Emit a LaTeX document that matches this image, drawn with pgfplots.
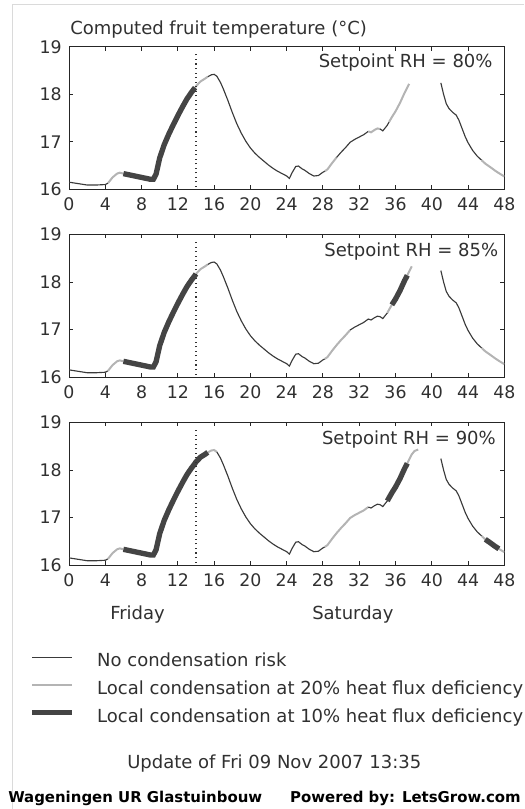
\documentclass[border=0pt]{standalone}
\usepackage{fontspec}
\setmainfont{DejaVu Sans}
\usepackage{pgfplots}
\usepackage{pgfplotstable}
\pgfplotsset{compat=1.18}

\definecolor{txt}{HTML}{303030}
\definecolor{nocond}{HTML}{3A3A3A}
\definecolor{cond20}{HTML}{B4B4B4}
\definecolor{cond10}{HTML}{444444}
\definecolor{framegray}{HTML}{DADADA}

% computed fruit temperature, hours from Friday 0:00
\pgfplotstableread{
h T
0.0 16.15
1.0 16.12
2.0 16.09
3.0 16.09
4.0 16.10
4.3 16.13
4.8 16.25
5.3 16.33
5.6 16.35
6.0 16.33
6.5 16.31
7.0 16.29
7.5 16.27
8.0 16.25
8.5 16.23
9.0 16.21
9.3 16.21
9.6 16.32
10.0 16.66
10.5 16.94
11.0 17.16
11.5 17.36
12.0 17.55
12.5 17.73
13.0 17.90
13.5 18.04
13.9 18.14
14.0 18.17
14.5 18.27
15.0 18.33
15.3 18.37
15.7 18.41
16.0 18.42
16.3 18.38
16.7 18.25
17.0 18.12
17.5 17.88
18.0 17.62
18.5 17.38
19.0 17.18
19.5 17.01
20.0 16.87
20.5 16.76
21.0 16.67
21.5 16.59
22.0 16.51
22.5 16.44
23.0 16.38
23.5 16.33
24.0 16.28
24.3 16.23
24.6 16.35
25.0 16.48
25.3 16.49
25.7 16.43
26.0 16.40
26.5 16.33
27.0 16.28
27.5 16.29
28.0 16.36
28.2 16.38
28.5 16.42
29.0 16.55
29.5 16.67
30.0 16.78
30.5 16.88
31.0 16.99
31.5 17.05
32.0 17.10
32.5 17.15
33.0 17.22
33.3 17.20
33.7 17.25
34.0 17.28
34.3 17.27
34.6 17.23
35.1 17.35
35.3 17.42
35.6 17.52
36.0 17.64
36.5 17.82
37.0 18.03
37.3 18.14
37.5 18.22
37.8 18.33
38.1 18.40
38.5 18.43
41.0 18.24
41.3 18.00
41.6 17.80
41.9 17.70
42.3 17.62
42.7 17.56
43.0 17.45
43.3 17.30
43.7 17.10
44.0 16.98
44.5 16.82
45.0 16.70
45.5 16.61
45.9 16.54
46.5 16.46
47.0 16.39
47.4 16.34
48.0 16.27
}\fruit

\def\px{0.75pt}
\newcommand\seg[3]{\addplot[#1, forget plot, restrict x to domain=#2:#3] table[x=h, y=T] {\fruit};}

\pgfplotsset{
  norisk/.style={nocond, line width=0.85pt},
  c20/.style={cond20, line width=1.5pt},
  c10/.style={cond10, line width=4pt},
  panel/.style={
    scale only axis, width=326.5pt, height=106.9pt, anchor=south west,
    xmin=0, xmax=48, ymin=16, ymax=19,
    xtick={0,4,...,48}, ytick={16,17,18,19},
    tick align=inside, tick pos=both, major tick length=3pt,
    axis line style={black!85, line width=0.7pt},
    tick style={black!85, line width=0.7pt},
    ticklabel style={font=\fontsize{13}{13}\selectfont, text=txt},
    xticklabel style={yshift=-3pt},
    yticklabel style={xshift=-2pt},
    /pgf/number format/assume math mode=true,
  },
}

\begin{document}
\begin{tikzpicture}
\path[use as bounding box] (0,0) rectangle ({524*\px},{-809*\px});
\draw[framegray, line width=0.75pt] ({524*\px},{-5*\px}) -- ({12.5*\px},{-5*\px}) -- ({12.5*\px},{-809*\px});

\node[anchor=base west, font=\fontsize{13.5}{16}\selectfont, text=txt, inner sep=0pt]
  at ({70*\px},{-34.3*\px}) {Computed fruit temperature (°C)};

% RH 80%
\begin{axis}[panel, at={({69*\px},{-189.3*\px})}]
\seg{norisk}{0}{4.3}
\seg{c20}{4.3}{6.0}
\seg{c20}{13.9}{15.3}
\seg{norisk}{15.3}{28.2}
\seg{c20}{28.2}{29.5}
\seg{norisk}{29.5}{33.0}
\seg{c20}{33.0}{34.3}
\seg{norisk}{34.3}{35.3}
\seg{c20}{35.3}{37.5}
\seg{norisk}{41.0}{45.5}
\seg{c20}{45.5}{48}
\seg{c10}{6.0}{13.9}
\addplot[forget plot, black!80, line width=0.8pt, dash pattern=on 0.8pt off 2.6pt] coordinates {(14,16.05) (14,18.88)};
\node[anchor=east, font=\fontsize{13.5}{16}\selectfont, text=txt, inner sep=0pt] at (rel axis cs:0.9735,0.886) {Setpoint RH = 80\%};
\end{axis}

% RH 85%
\begin{axis}[panel, at={({69*\px},{-377*\px})}]
\seg{norisk}{0}{4.3}
\seg{c20}{4.3}{6.0}
\seg{c20}{14.0}{15.3}
\seg{norisk}{15.3}{28.2}
\seg{c20}{28.2}{31.0}
\seg{norisk}{31.0}{35.1}
\seg{c20}{35.1}{35.6}
\seg{c20}{37.3}{37.8}
\seg{norisk}{41.0}{45.5}
\seg{c20}{45.5}{48}
\seg{c10}{6.0}{14.0}
\seg{c10}{35.6}{37.3}
\addplot[forget plot, black!80, line width=0.8pt, dash pattern=on 0.8pt off 2.6pt] coordinates {(14,16.05) (14,18.88)};
\node[anchor=east, font=\fontsize{13.5}{16}\selectfont, text=txt, inner sep=0pt] at (rel axis cs:0.9865,0.882) {Setpoint RH = 85\%};
\end{axis}

% RH 90%
\begin{axis}[panel, at={({69*\px},{-565*\px})},
  legend image code/.code={\draw[#1] (0pt,0.28em) -- (30pt,0.28em);},
  legend cell align=left,
  legend style={at={(axis description cs:-0.0912,-0.599)}, anchor=north west,
    draw=none, fill=none, inner sep=0pt, row sep=5pt,
    font=\fontsize{13.5}{16}\selectfont, text=txt,
    nodes={inner sep=2pt},
    /tikz/every odd column/.append style={column sep=14.75pt}},
]
\seg{norisk}{0}{4.3}
\seg{c20}{4.3}{6.0}
\seg{c20}{15.3}{16.3}
\seg{norisk}{16.3}{28.2}
\seg{c20}{28.2}{33.0}
\seg{norisk}{33.0}{35.1}
\seg{c20}{37.3}{38.5}
\seg{norisk}{41.0}{45.5}
\seg{c20}{45.5}{45.9}
\seg{c20}{47.4}{48}
\seg{c10}{6.0}{15.3}
\seg{c10}{35.1}{37.3}
\seg{c10}{45.9}{47.4}
\addplot[forget plot, black!80, line width=0.8pt, dash pattern=on 0.8pt off 2.6pt] coordinates {(14,16.05) (14,18.88)};
\node[anchor=east, font=\fontsize{13.5}{16}\selectfont, text=txt, inner sep=0pt] at (rel axis cs:0.981,0.881) {Setpoint RH = 90\%};
\addlegendimage{norisk}
\addlegendentry{No condensation risk}
\addlegendimage{c20}
\addlegendentry{Local condensation at 20\% heat flux deficiency}
\addlegendimage{c10}
\addlegendentry{Local condensation at 10\% heat flux deficiency}
\end{axis}

\node[anchor=base west, font=\fontsize{13.5}{16}\selectfont, text=txt, inner sep=0pt]
  at ({110*\px},{-619.5*\px}) {Friday};
\node[anchor=base west, font=\fontsize{13.5}{16}\selectfont, text=txt, inner sep=0pt]
  at ({312*\px},{-619.5*\px}) {Saturday};
\node[anchor=base west, font=\fontsize{13.5}{16}\selectfont, text=txt, inner sep=0pt]
  at ({127*\px},{-768*\px}) {Update of Fri 09 Nov 2007 13:35};
\node[anchor=base west, font=\fontsize{11.2}{13}\selectfont\bfseries, text=black, inner sep=0pt]
  at ({8*\px},{-802*\px}) {Wageningen UR Glastuinbouw};
\node[anchor=base east, font=\fontsize{11.2}{13}\selectfont\bfseries, text=black, inner sep=0pt]
  at ({521*\px},{-802*\px}) {Powered by: LetsGrow.com};
\end{tikzpicture}
\end{document}
